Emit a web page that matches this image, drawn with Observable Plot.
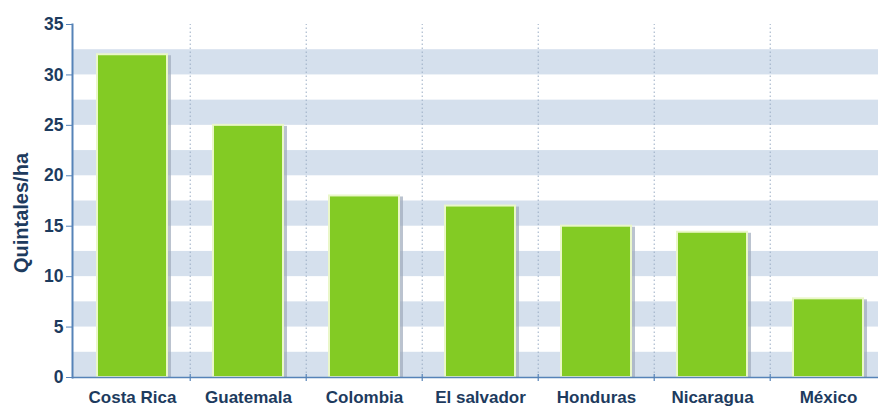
<!DOCTYPE html>
<html>
<head>
<meta charset="utf-8">
<script src="https://cdn.jsdelivr.net/npm/d3@7"></script>
<script src="https://cdn.jsdelivr.net/npm/@observablehq/plot@0.6"></script>
<style>
  html, body { margin: 0; padding: 0; background: #fff; }
  #chart svg { display: block; }
</style>
</head>
<body>
<div id="chart"></div>
<script>
const countries = ["Costa Rica", "Guatemala", "Colombia", "El salvador", "Honduras", "Nicaragua", "México"];
const values = [32, 25, 18, 17, 15, 14.4, 7.8];
const bandStarts = [0, 5, 10, 15, 20, 25, 30];
const yTicks = [0, 5, 10, 15, 20, 25, 30, 35];
const yLabel = "Quintales/ha";

const data = countries.map((c, i) => ({country: c, value: values[i]}));

const W = 878, H = 406;
const xRange = [72, 888];
const step = (xRange[1] - xRange[0]) / countries.length;
const navy = "#1d3b5e";
const axisBlue = "#5683b8";
const font = "'Liberation Sans', Arial, sans-serif";

const chart = Plot.plot({
  width: W,
  height: H,
  marginLeft: 72,
  marginRight: 0,
  marginTop: 24,
  marginBottom: 29,
  style: {fontFamily: font, background: "#fff"},
  x: {domain: countries, range: xRange, paddingInner: 0.4, paddingOuter: 0.2},
  y: {domain: [0, 35]},
  marks: [
    Plot.rectY(bandStarts, {y1: d => d, y2: d => d + 2.5, fill: "#d5e0ed"}),
    Plot.ruleX(countries.slice(1), {x: d => d, dx: -step / 2, y1: 0, y2: 35, insetTop: -4, stroke: "#9aacc4", strokeDasharray: "1.5,2.5", strokeWidth: 1}),
    Plot.rectY(data, {x: "country", y: "value", fill: "#9eaabb", opacity: 0.7, dx: 4, dy: 1}),
    Plot.rectY(data, {x: "country", y: "value", fill: "#83cb24", stroke: "#eaf7c9", strokeWidth: 2}),
    Plot.ruleY([0], {stroke: axisBlue, strokeWidth: 1.5}),
    Plot.ruleX(countries.slice(1), {x: d => d, dx: -step / 2, y1: 0, y2: 0, insetTop: -3, insetBottom: -4, stroke: axisBlue, strokeWidth: 1.2}),
    Plot.frame({anchor: "left", stroke: axisBlue, strokeWidth: 2}),
    Plot.axisY({
      ticks: yTicks, tickSize: 6, tickPadding: 3,
      stroke: axisBlue, fill: navy, fontWeight: "bold", fontSize: 17.5,
      label: null
    }),
    Plot.text([yLabel], {
      frameAnchor: "left", dx: -51, dy: 12, rotate: -90,
      fill: navy, fontWeight: "bold", fontSize: 20, textAnchor: "middle", lineAnchor: "middle"
    }),
    Plot.axisX({
      tickSize: 0, tickPadding: 13, fill: navy, fontWeight: "bold", fontSize: 17, label: null
    })
  ]
});

document.getElementById("chart").appendChild(chart);
</script>
</body>
</html>
